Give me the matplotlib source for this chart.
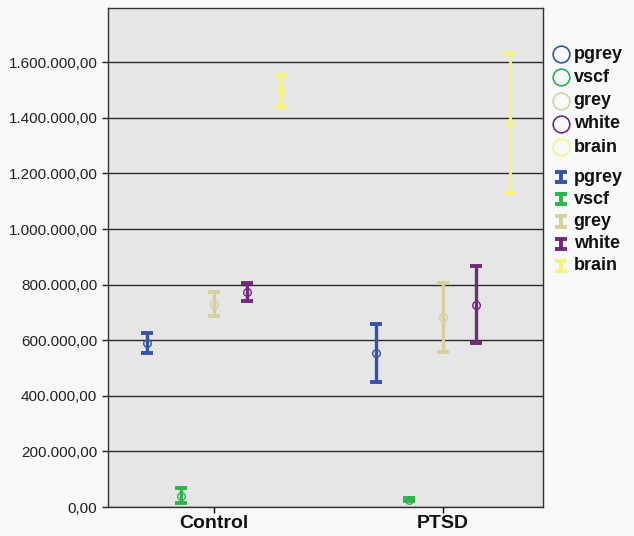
import matplotlib.pyplot as plt
import numpy as np
from matplotlib.ticker import FuncFormatter

plt.rcParams['font.family'] = ['Liberation Sans', 'DejaVu Sans']

# groups on the x axis and the five measures
groups = ['Control', 'PTSD']
series = ['pgrey', 'vscf', 'grey', 'white', 'brain']
colors = ['#3553a8', '#2fb34a', '#d5d09c', '#74287f', '#f7f27a']

# mean and 95% CI ends (Control, PTSD)
means = [[590000, 555000],
         [38000, 27000],
         [730000, 683000],
         [773000, 727000],
         [1500000, 1380000]]
lows = [[555000, 451000],
        [14000, 20000],
        [687000, 559000],
        [741000, 589000],
        [1439000, 1128000]]
highs = [[627000, 658000],
         [70000, 34000],
         [773000, 805000],
         [806000, 868000],
         [1554000, 1632000]]

offsets = [-0.293, -0.145, 0.0, 0.147, 0.295]


def de_fmt(v, pos):
    s = f"{v:,.2f}"
    return s.replace(',', 'X').replace('.', ',').replace('X', '.')


fig = plt.figure(figsize=(6.34, 5.36), dpi=100, facecolor='#f8f9fb')
ax = fig.add_axes([0.170, 0.054, 0.686, 0.931])
ax.set_facecolor('#e6e6e6')

x = np.arange(len(groups))
for i, name in enumerate(series):
    m = np.array(means[i])
    lo = m - np.array(lows[i])
    hi = np.array(highs[i]) - m
    lw = 2.0 if name == 'brain' else 2.4
    ax.errorbar(x + offsets[i], m, yerr=[lo, hi], fmt='none', ecolor=colors[i],
                elinewidth=lw, capsize=4.2, capthick=2.8, zorder=3)
    ax.plot(x + offsets[i], m, ls='none', marker='o', ms=5.5, mfc='none',
            mec=colors[i], mew=1.0, zorder=4)

ax.set_xlim(-0.463, 1.437)
ax.set_ylim(0, 1795000)
ax.set_yticks(np.arange(0, 1600001, 200000))
ax.yaxis.set_major_formatter(FuncFormatter(de_fmt))
ax.set_xticks(x)
ax.set_xticklabels(groups, fontsize=14, fontweight='bold', color='#111111')
ax.tick_params(axis='y', labelsize=11, colors='#222222', length=4, width=1)
ax.tick_params(axis='x', length=4, width=1, pad=2)
ax.grid(axis='y', color='#2b2b2b', lw=1.0)
ax.set_axisbelow(True)
for sp in ax.spines.values():
    sp.set_color('#333333')
    sp.set_linewidth(1.0)

# legend drawn by hand on the right
lax = fig.add_axes([0.856, 0.45, 0.144, 0.5])
lax.set_xlim(0, 1)
lax.set_ylim(0, 1)
lax.axis('off')
ys_c = np.linspace(0.898, 0.551, 5)
ys_b = np.linspace(0.439, 0.1075, 5)
for i, name in enumerate(series):
    lax.plot([0.2], [ys_c[i]], marker='o', ms=12, mfc='none', mec=colors[i],
             mew=1.2, ls='none')
    lax.text(0.34, ys_c[i], name, fontsize=13, fontweight='bold',
             va='center', ha='left', color='#111111')
    lax.errorbar([0.2], [ys_b[i]], yerr=[[0.019], [0.019]], fmt='none',
                 ecolor=colors[i], elinewidth=2.8, capsize=4.2, capthick=2.8)
    lax.text(0.34, ys_b[i], name, fontsize=13, fontweight='bold',
             va='center', ha='left', color='#111111')

fig.savefig('out.png', dpi=100, facecolor=fig.get_facecolor())
